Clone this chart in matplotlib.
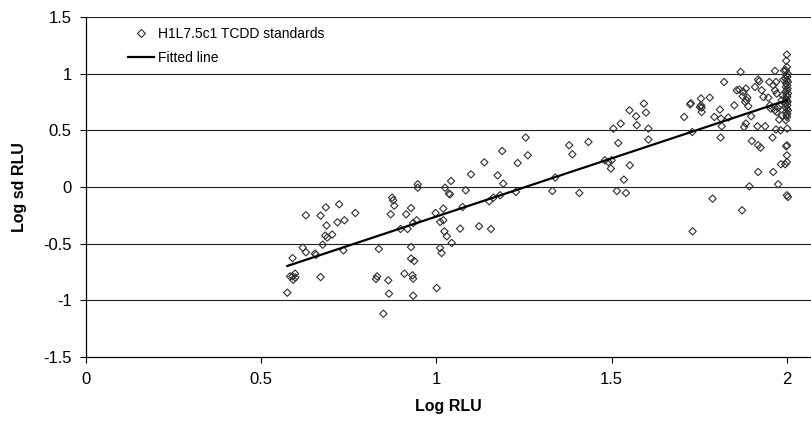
import matplotlib
matplotlib.use("Agg")
import matplotlib.pyplot as plt
from matplotlib.lines import Line2D

plt.rcParams['font.family'] = ['Liberation Sans', 'DejaVu Sans']

# Log RLU / Log sd RLU for the TCDD standards
std_x = [
    0.575, 0.590, 0.583, 0.592, 0.597, 0.590, 0.598, 0.619, 0.628, 0.628,
    0.654, 0.657, 0.670, 0.670, 0.676, 0.683, 0.685, 0.687, 0.689, 0.703,
    0.718, 0.723, 0.735, 0.738, 0.769, 0.828, 0.831, 0.836, 0.849, 0.863,
    0.865, 0.870, 0.874, 0.880, 0.877, 0.898,
    0.909, 0.914, 0.918, 0.928, 0.928, 0.928, 0.937, 0.932, 0.934, 0.934,
    0.934, 0.944, 0.947, 0.947, 0.998, 1.001, 1.011, 1.011, 1.015, 1.020,
    1.020, 1.023, 1.030, 1.025, 1.036, 1.039, 1.042, 1.044, 1.068, 1.075,
    1.084, 1.099, 1.122, 1.137, 1.156, 1.151, 1.163, 1.175, 1.182, 1.188,
    1.191,
    1.227, 1.232, 1.255, 1.261, 1.331, 1.339, 1.379, 1.388, 1.408, 1.434,
    1.481, 1.491, 1.498, 1.500, 1.505, 1.515, 1.519, 1.526, 1.535, 1.541,
    1.551, 1.552, 1.570, 1.572, 1.592, 1.598, 1.605, 1.605,
    1.707, 1.724, 1.726, 1.730, 1.731, 1.755, 1.755, 1.757, 1.757, 1.752,
    1.780, 1.788, 1.793, 1.809, 1.812, 1.814, 1.811, 1.821, 1.833, 1.850,
    1.857, 1.864, 1.868, 1.872, 1.874, 1.876, 1.883, 1.881, 1.885, 1.887,
    1.890, 1.883, 1.878, 1.893, 1.898, 1.900, 1.909, 1.916, 1.918, 1.921,
    1.918, 1.925, 1.918, 1.928, 1.933, 1.938, 1.947, 1.950, 1.952, 1.954,
    1.959, 1.961, 1.966, 1.961, 1.969, 1.966, 1.971, 1.966, 1.971, 1.969,
    1.975, 1.978, 1.982, 1.983, 1.985, 1.988, 1.990, 1.992, 1.974, 1.980,
    1.986,
    2.000, 1.998, 2.000, 1.997, 2.002, 1.999, 2.001, 1.996, 2.000, 2.003,
    1.998, 2.001, 1.997, 2.002, 2.000, 1.996, 2.003, 1.999, 2.001, 1.997,
    2.000, 2.002, 1.998, 2.001, 1.996, 2.000, 2.003, 1.998, 2.001, 1.999,
    2.000, 1.997, 2.001, 2.000, 1.998, 2.000, 2.000, 1.995, 2.000, 2.003,
]
std_y = [
    -0.934, -0.628, -0.790, -0.820, -0.766, -0.790, -0.800, -0.536, -0.577, -0.250,
    -0.589, -0.600, -0.253, -0.796, -0.510, -0.430, -0.180, -0.340, -0.447, -0.420,
    -0.312, -0.153, -0.560, -0.294, -0.230, -0.813, -0.790, -0.548, -1.120, -0.825,
    -0.943, -0.241, -0.094, -0.165, -0.118, -0.371,
    -0.766, -0.241, -0.371, -0.186, -0.531, -0.633, -0.654, -0.781, -0.810, -0.961,
    -0.318, -0.294, 0.024, -0.006, -0.230, -0.893, -0.309, -0.539, -0.583, -0.191,
    -0.294, -0.392, -0.436, -0.006, -0.058, -0.065, 0.053, -0.495, -0.368, -0.177,
    -0.029, 0.112, -0.347, 0.218, -0.371, -0.126, -0.094, 0.103, -0.073, 0.318,
    0.030,
    -0.044, 0.212, 0.437, 0.280, -0.035, 0.083, 0.369, 0.289, -0.053, 0.398,
    0.236, 0.221, 0.163, 0.236, 0.516, -0.035, 0.389, 0.560, 0.065, -0.053,
    0.678, 0.192, 0.625, 0.546, 0.737, 0.658, 0.516, 0.419,
    0.619, 0.731, 0.740, 0.486, -0.392, 0.782, 0.722, 0.702, 0.663, 0.707,
    0.790, -0.103, 0.619, 0.684, 0.605, 0.537, 0.437, 0.928, 0.614, 0.722,
    0.855, 0.861, 1.017, -0.206, 0.802, 0.840, 0.870, 0.752, 0.767, 0.790,
    0.714, 0.561, 0.531, 0.006, 0.625, 0.407, 0.884, 0.537, 0.950, 0.934,
    0.369, 0.348, 0.133, 0.855, 0.796, 0.537, 0.790, 0.928, 0.722, 0.693,
    0.437, 0.133, 1.026, 0.899, 0.928, 0.855, 0.826, 0.678, 0.663, 0.508,
    0.024, 0.596, 0.501, 0.201, 0.767, 0.810, 0.948, 1.030, 0.700, 0.720,
    0.630,
    1.171, 1.116, 1.061, 1.032, 1.002, 0.988, 0.973, 0.958, 0.944, 0.929,
    0.914, 0.899, 0.884, 0.870, 0.855, 0.840, 0.826, 0.811, 0.796, 0.781,
    0.767, 0.752, 0.737, 0.722, 0.707, 0.693, 0.678, 0.663, 0.648, 0.634,
    0.619, 0.590, 0.516, 0.368, 0.360, 0.280, 0.221, 0.201, -0.073, -0.088,
]

# End points of the regression line
fit_x = [0.575, 2.0]
fit_y = [-0.698, 0.767]

x_ticks = [0, 0.5, 1, 1.5, 2]
x_tick_labels = ['0', '0.5', '1', '1.5', '2']
y_ticks = [-1.5, -1, -0.5, 0, 0.5, 1, 1.5]
y_tick_labels = ['-1.5', '-1', '-0.5', '0', '0.5', '1', '1.5']

W, H = 811, 423
fig = plt.figure(figsize=(W / 100, H / 100), dpi=100)
fig.patch.set_facecolor('white')
left_px, right_px, top_px, bottom_px = 85.7, 811, 17.3, 356.7
ax = fig.add_axes([left_px / W, 1 - bottom_px / H,
                   (right_px - left_px) / W, (bottom_px - top_px) / H])

ax.set_xlim(0, (right_px - left_px) / 350.6)
ax.set_ylim(-1.5, 1.5)

for yv in y_ticks[1:]:
    ax.axhline(yv, color='#202020', lw=0.8, zorder=1)

ax.scatter(std_x, std_y, marker='D', s=14, facecolors='none',
           edgecolors='#303030', linewidths=0.8, zorder=3)
ax.plot(fit_x, fit_y, color='black', lw=1.6, zorder=4)

for side in ['top', 'right']:
    ax.spines[side].set_visible(False)
for side in ['left', 'bottom']:
    ax.spines[side].set_color('black')
    ax.spines[side].set_linewidth(0.9)

ax.set_xticks(x_ticks)
ax.set_xticklabels(x_tick_labels)
ax.set_yticks(y_ticks)
ax.set_yticklabels(y_tick_labels)
ax.tick_params(axis='x', direction='out', length=4, width=0.8, pad=7,
               labelsize=12, colors='black')
ax.tick_params(axis='y', direction='out', length=4, width=0.8, pad=6,
               labelsize=12, colors='black')

ax.set_xlabel('Log RLU', fontsize=11.5, fontweight='bold', labelpad=9)
ax.set_ylabel('Log sd RLU', fontsize=11.5, fontweight='bold', labelpad=12)

handles = [
    Line2D([], [], marker='D', markersize=3.6, markerfacecolor='none',
           markeredgecolor='#303030', markeredgewidth=0.8, linestyle='none'),
    Line2D([], [], color='black', lw=1.6),
]
ax.legend(handles, ['H1L7.5c1 TCDD standards', 'Fitted line'],
          loc='upper left', bbox_to_anchor=(0.045, 1.0), frameon=False,
          fontsize=10, handlelength=1.9, handletextpad=0.25,
          labelspacing=0.7, borderaxespad=0.3)

fig.savefig('out.png', dpi=100, facecolor='white')
